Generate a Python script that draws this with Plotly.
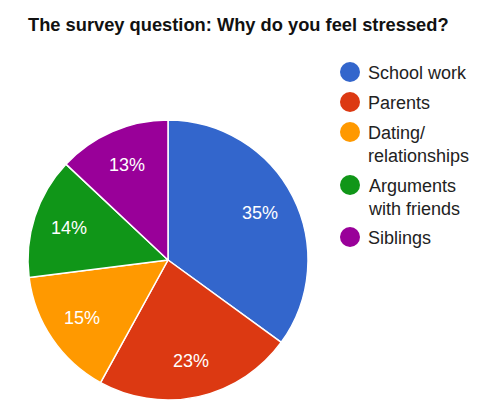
import math
import plotly.graph_objects as go

labels = ["School work", "Parents", "Dating/<br>relationships", "Arguments<br>with friends", "Siblings"]
values = [35, 23, 15, 14, 13]
colors = ["#3366cc", "#dc3912", "#ff9900", "#109618", "#990099"]

W, H = 500, 403
OFF = 8  # page body margin
FONT = "Liberation Sans, Arial, sans-serif"


def px(x):
    return (x - OFF) / W


def py(y):
    return 1 - (y - OFF) / H


# pie geometry (page pixels)
CX, CY, R = 168, 260, 140

fig = go.Figure()
fig.add_trace(go.Pie(
    labels=labels, values=values, sort=False, direction="clockwise", rotation=0,
    marker=dict(colors=colors, line=dict(color="white", width=1.5)),
    textinfo="none",
    domain=dict(x=[px(CX - R), px(CX + R)], y=[py(CY + R), py(CY - R)]),
    showlegend=False, hoverinfo="label+percent",
))

shapes, annotations = [], []

# percentage labels placed along each slice's mid-angle
total = sum(values)
cum = 0
for v in values:
    mid = (cum + v / 2) / total * 2 * math.pi
    cum += v
    lx = CX + 0.74 * R * math.sin(mid)
    ly = CY - 0.74 * R * math.cos(mid)
    annotations.append(dict(xref="paper", yref="paper", x=px(lx), y=py(ly),
                            xanchor="center", yanchor="middle", showarrow=False,
                            text=f"{round(v / total * 100)}%",
                            font=dict(size=18, color="white", family=FONT)))

# custom legend with circular markers
legend_y = [72, 102, 132, 185, 237]
for lab, col, yp in zip(labels, colors, legend_y):
    r = 10
    cx = 350
    shapes.append(dict(type="circle", xref="paper", yref="paper",
                       x0=px(cx - r), x1=px(cx + r),
                       y0=py(yp + r), y1=py(yp - r),
                       fillcolor=col, line=dict(width=0)))
    annotations.append(dict(xref="paper", yref="paper", x=px(366), y=py(yp - 11),
                            xanchor="left", yanchor="top", text=lab, showarrow=False,
                            align="left", font=dict(size=18, color="#222222", family=FONT)))

annotations.append(dict(xref="paper", yref="paper", x=px(26), y=py(25),
                        xanchor="left", yanchor="middle", showarrow=False,
                        text="<b>The survey question: Why do you feel stressed?</b>",
                        font=dict(size=18.3, color="#111111", family=FONT)))

fig.update_layout(width=W, height=H, margin=dict(l=0, r=0, t=0, b=0),
                  paper_bgcolor="white", plot_bgcolor="white",
                  shapes=shapes, annotations=annotations)
fig.write_html("out.html")
